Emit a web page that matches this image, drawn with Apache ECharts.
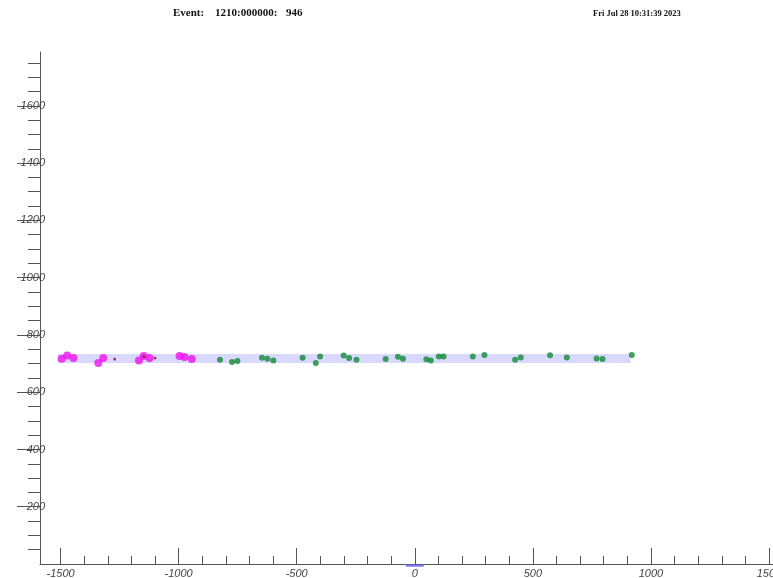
<!DOCTYPE html>
<html>
<head>
<meta charset="utf-8">
<title>Event 1210:000000: 946</title>
<script src="https://cdn.jsdelivr.net/npm/echarts@6/dist/echarts.min.js"></script>
<style>
  html, body { margin: 0; padding: 0; background: #ffffff; overflow: hidden; }
  #chart { width: 773px; height: 578px; }
</style>
</head>
<body>
<div id="chart"></div>
<script>
// Hit positions (x, y) per hit class
const magentaHits = [
  [-1495, 717], [-1472, 728], [-1445, 719], [-1340, 702], [-1319, 719],
  [-1168, 711], [-1148, 726], [-1123, 719], [-996, 726], [-975, 723], [-944, 716]
];
const darkRedHits = [
  [-1271, 716], [-1147, 725], [-1100, 719]
];
const greenHits = [
  [-825, 713], [-774, 705], [-751, 709], [-647, 720], [-624, 717], [-599, 711],
  [-475, 720], [-419, 702], [-401, 725], [-301, 728], [-278, 719], [-247, 713],
  [-123, 716], [-71, 724], [-50, 717], [49, 715], [68, 711], [102, 725],
  [122, 725], [246, 725], [295, 730], [425, 713], [449, 721], [573, 729],
  [644, 721], [770, 718], [795, 716], [919, 730]
];
// Track envelope band: x range and y range
const bandX = [-1512, 914];
const bandY = [702, 733];
// Vertex marker at the origin
const vertexMark = [[-38, -6], [38, -6]];

// Axis ticks
const xMajorTicks = [-1500, -1000, -500, 0, 500, 1000, 1500];
const xMinorTicks = [];
for (let v = -1500; v <= 1500; v += 100) if (v % 500 !== 0) xMinorTicks.push(v);
const yMajorTicks = [200, 400, 600, 800, 1000, 1200, 1400, 1600];
const yMinorTicks = [];
for (let v = 50; v <= 1750; v += 50) if (v % 200 !== 0) yMinorTicks.push(v);

const xRange = [-1587, 1517];
const yRange = [0, 1788];

const axisColor = '#555555';
const labelStyle = {
  color: '#444444',
  fontStyle: 'italic',
  fontFamily: 'Liberation Sans, Arial, sans-serif',
  fontSize: 11
};
const headerFont = {
  fontFamily: 'Liberation Serif, serif',
  fontWeight: 'bold',
  fill: '#111111'
};

const chart = echarts.init(document.getElementById('chart'), null, { width: 773, height: 578 });

chart.setOption({
  animation: false,
  backgroundColor: '#ffffff',
  graphic: [
    { type: 'text', left: 173, top: 8, style: Object.assign({ text: 'Event:', fontSize: 11 }, headerFont) },
    { type: 'text', left: 215, top: 8, style: Object.assign({ text: '1210:000000:', fontSize: 11 }, headerFont) },
    { type: 'text', left: 286, top: 8, style: Object.assign({ text: '946', fontSize: 11 }, headerFont) },
    { type: 'text', left: 593, top: 9, style: Object.assign({ text: 'Fri Jul 28 10:31:39 2023', fontSize: 8.5 }, headerFont) }
  ],
  grid: { left: 40, right: 0, top: 52, bottom: 14, containLabel: false, outerBoundsMode: 'none' },
  xAxis: [
    {
      type: 'value', min: xRange[0], max: xRange[1], position: 'bottom',
      splitLine: { show: false },
      axisLine: { show: true, onZero: false, lineStyle: { color: axisColor, width: 1 } },
      axisTick: { show: true, inside: true, length: 16, customValues: xMajorTicks, lineStyle: { color: axisColor } },
      axisLabel: Object.assign({ show: true, margin: 4, customValues: xMajorTicks, formatter: v => String(v) }, labelStyle)
    },
    {
      type: 'value', min: xRange[0], max: xRange[1], position: 'bottom', gridIndex: 0,
      splitLine: { show: false },
      axisLine: { show: false, onZero: false },
      axisTick: { show: true, inside: true, length: 8, customValues: xMinorTicks, lineStyle: { color: axisColor } },
      axisLabel: { show: false }
    }
  ],
  yAxis: [
    {
      type: 'value', min: yRange[0], max: yRange[1], position: 'left',
      splitLine: { show: false },
      axisLine: { show: true, onZero: false, lineStyle: { color: axisColor, width: 1 } },
      axisTick: { show: true, inside: false, length: 23, customValues: yMajorTicks, lineStyle: { color: axisColor } },
      axisLabel: Object.assign({ show: true, margin: -5, padding: [5, 0, 0, 0], customValues: yMajorTicks, formatter: v => String(v) }, labelStyle)
    },
    {
      type: 'value', min: yRange[0], max: yRange[1], position: 'left', gridIndex: 0,
      splitLine: { show: false },
      axisLine: { show: false, onZero: false },
      axisTick: { show: true, inside: false, length: 12, customValues: yMinorTicks, lineStyle: { color: axisColor } },
      axisLabel: { show: false }
    }
  ],
  series: [
    {
      name: 'band', type: 'scatter', data: [], z: 1,
      markArea: {
        silent: true,
        itemStyle: { color: '#d9d9ff', opacity: 1 },
        data: [[{ coord: [bandX[0], bandY[0]] }, { coord: [bandX[1], bandY[1]] }]]
      }
    },
    {
      name: 'green', type: 'scatter', data: greenHits, z: 3,
      symbol: 'circle', symbolSize: 6,
      itemStyle: { color: '#138a35' }
    },
    {
      name: 'magenta', type: 'scatter', data: magentaHits, z: 4,
      symbol: 'circle', symbolSize: 8,
      itemStyle: { color: '#ee11ee' }
    },
    {
      name: 'darkred', type: 'scatter', data: darkRedHits, z: 5,
      symbol: 'circle', symbolSize: 3,
      itemStyle: { color: '#9a1030' }
    },
    {
      name: 'vertex', type: 'line', data: vertexMark, z: 6,
      clip: false, symbol: 'none',
      lineStyle: { color: '#7777ff', width: 2 }
    }
  ]
});
</script>
</body>
</html>
